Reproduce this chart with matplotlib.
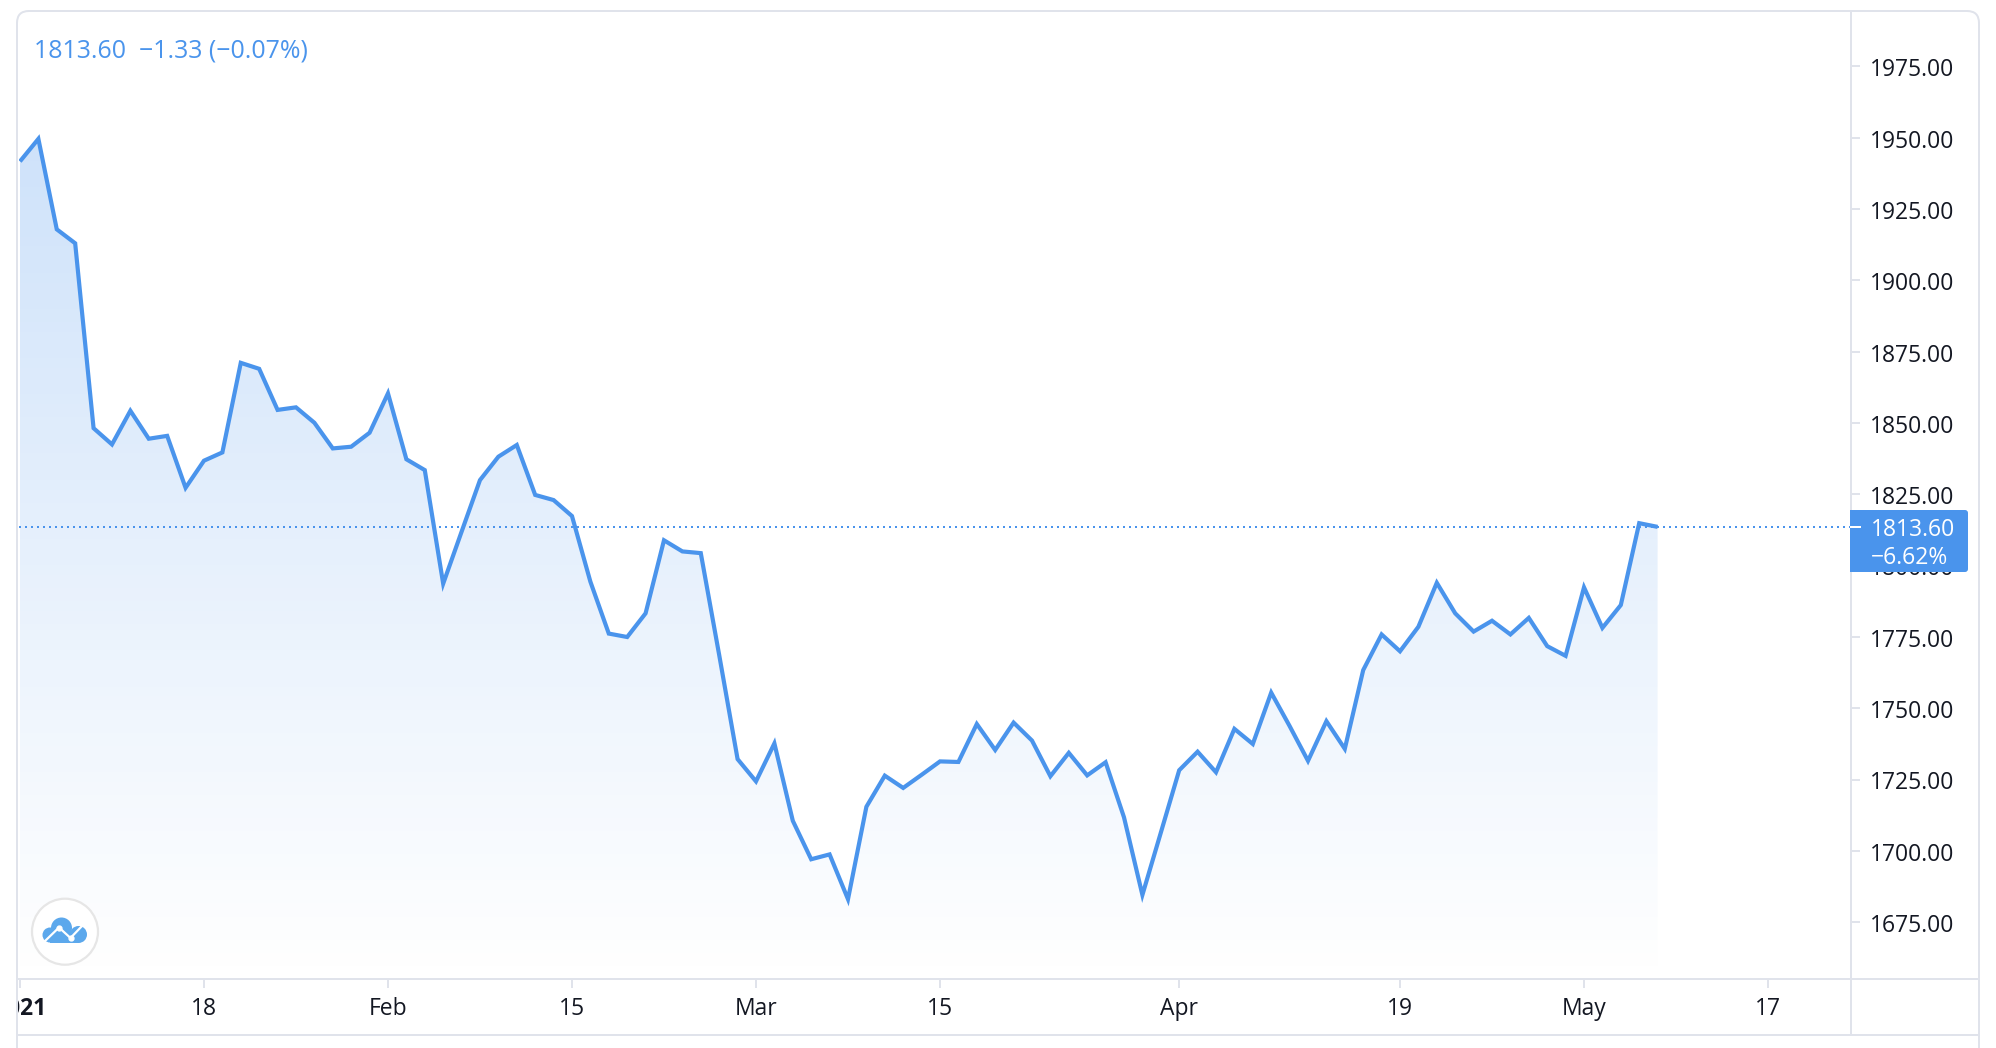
import numpy as np
import matplotlib
matplotlib.use("Agg")
import matplotlib.pyplot as plt
from matplotlib.patches import Circle, Rectangle, FancyBboxPatch, PathPatch
from matplotlib.path import Path
from matplotlib.lines import Line2D
from matplotlib.transforms import Affine2D, Bbox

# daily gold price
prices = [1941.7, 1949.6, 1917.9, 1913.0, 1848.2, 1842.5, 1854.3, 1844.5, 1845.5, 1827.3,
          1836.8, 1839.7, 1871.1, 1869.0, 1854.6, 1855.5, 1850.1, 1841.1, 1841.7, 1846.6,
          1860.4, 1837.3, 1833.5, 1793.7, 1811.9, 1830.0, 1838.2, 1842.3, 1824.8, 1823.0,
          1817.4, 1794.4, 1776.2, 1775.0, 1783.3, 1808.9, 1805.0, 1804.4, 1768.7, 1732.2,
          1724.4, 1737.7, 1710.6, 1697.1, 1698.8, 1683.1, 1715.5, 1726.4, 1722.1, 1726.7,
          1731.4, 1731.2, 1744.5, 1735.4, 1745.0, 1738.7, 1726.2, 1734.4, 1726.5, 1731.1,
          1711.8, 1684.6, 1706.4, 1728.3, 1734.8, 1727.6, 1742.8, 1737.5, 1755.5, 1743.8,
          1731.6, 1745.5, 1735.8, 1763.4, 1775.9, 1770.0, 1778.6, 1794.0, 1783.3, 1776.9,
          1780.7, 1775.9, 1781.7, 1771.8, 1768.4, 1792.4, 1778.2, 1786.2, 1814.9, 1813.6]
last_price = 1813.6
tick_idx = [0, 10, 20, 30, 40, 50, 63, 75, 85, 95]
tick_labels = ["2021", "18", "Feb", "15", "Mar", "15", "Apr", "19", "May", "17"]
y_ticks = [1675, 1700, 1725, 1750, 1775, 1800, 1825, 1850, 1875, 1900, 1925, 1950, 1975]
legend_text = "1813.60  \u22121.33 (\u22120.07%)"
badge_price = "1813.60"
badge_pct = "\u22126.62%"

W, H = 1996, 1048
BLUE = "#4a94ec"
GRID = "#e0e3eb"
DARK = "#131722"
plt.rcParams["font.family"] = ["Open Sans", "DejaVu Sans"]

fig = plt.figure(figsize=(W / 100, H / 100), dpi=100)
L, R, T, B = 18.5, 1851, 12, 979
ax = fig.add_axes([L / W, 1 - B / H, (R - L) / W, (B - T) / H])
x = np.arange(len(prices))
xlim = (-0.08, 99.51)
ylim = (1655.13, 1994.07)

# gradient under the line
fill = ax.fill_between(x, prices, ylim[0], color="none")
grad = np.zeros((256, 1, 4))
grad[:, 0, :3] = matplotlib.colors.to_rgb(BLUE)
grad[:, 0, 3] = np.linspace(0.27, 0, 256)
im = ax.imshow(grad, extent=[x[0], x[-1], ylim[0], max(prices)], aspect="auto", zorder=1)
im.set_clip_path(fill.get_paths()[0], ax.transData)

ax.axhline(last_price, color=BLUE, lw=1.44, dashes=(1, 2), zorder=2)
ax.plot(x, prices, color=BLUE, lw=3.0, zorder=3, solid_joinstyle="miter", solid_capstyle="butt")
ax.set_xlim(*xlim)
ax.set_ylim(*ylim)

for s in ["top", "left"]:
    ax.spines[s].set_visible(False)
for s in ["right", "bottom"]:
    ax.spines[s].set_color(GRID)
    ax.spines[s].set_linewidth(1.44)

ax.yaxis.tick_right()
ax.set_yticks(y_ticks)
ax.set_yticklabels(["%.2f" % v for v in y_ticks])
ax.set_xticks(tick_idx)
ax.set_xticklabels(tick_labels)
ax.tick_params(axis="x", length=6.5, width=1.44, color=GRID, labelcolor=DARK, labelsize=16.5, pad=6.3)
ax.tick_params(axis="y", length=6.5, width=1.44, color=GRID, labelcolor=DARK, labelsize=16.5, pad=7)
for lab in ax.get_yticklabels():
    lab.set_transform(lab.get_transform() + Affine2D().translate(0, -0.8))
first = ax.get_xticklabels()[0]
first.set_fontweight("bold")
first.set_clip_on(True)
first.set_clip_box(Bbox([[17, 0], [W, H]]))

ax.text(34.5 / W, 1 - 51.5 / H, legend_text, transform=fig.transFigure, color=BLUE, fontsize=17.9,
        va="center", ha="left")

# everything below is placed in picture pixels, y going down
px = Affine2D().scale(1, -1).translate(0, H)

# outer frame
frame = Path([(17, H), (17, 23), (17, 11), (29, 11), (1967, 11), (1979, 11), (1979, 23), (1979, H)],
             [Path.MOVETO, Path.LINETO, Path.CURVE3, Path.CURVE3, Path.LINETO, Path.CURVE3, Path.CURVE3, Path.LINETO])
fig.add_artist(PathPatch(frame, fc="none", ec=GRID, lw=1.44, transform=px))
fig.add_artist(Line2D([17, 1979], [1035, 1035], color=GRID, lw=1.44, transform=px))
fig.add_artist(Line2D([1851, 1851], [979, 1035], color=GRID, lw=1.44, transform=px))
fig.add_artist(Line2D([1851, 1979], [979, 979], color=GRID, lw=1.44, transform=px))

# price badge on the axis
fig.add_artist(Rectangle((1850, 510), 10, 62, fc=BLUE, ec="none", transform=px, zorder=5))
fig.add_artist(FancyBboxPatch((1853, 513), 112, 56, boxstyle="round,pad=3,rounding_size=3",
                              fc=BLUE, ec="none", transform=px, zorder=5))
fig.add_artist(Line2D([1851, 1860], [527, 527], color="white", lw=1.44, transform=px, zorder=6))
for txt, yp in [(badge_price, 529.5), (badge_pct, 557.5)]:
    fig.text(1870.5 / W, 1 - yp / H, txt, color="white", fontsize=16.5, va="center", ha="left", zorder=6)

# logo button
fig.add_artist(Circle((65, 931.7), 33, fc="white", ec="#e6e6e6", lw=1.6, transform=px, zorder=5))
CLOUD = "#5ca8ec"
for cx, cy, r in [(61.5, 928, 10.5), (50, 935, 7.5), (78.5, 934.5, 8.5)]:
    fig.add_artist(Circle((cx, cy), r, fc=CLOUD, ec="none", transform=px, zorder=6))
fig.add_artist(Rectangle((50, 932), 29, 11, fc=CLOUD, ec="none", transform=px, zorder=6))
fig.add_artist(Line2D([44, 59, 70.5, 82], [942, 927.5, 938, 926], color="white", lw=1.6, marker="o",
                      markersize=3.5, markevery=[1, 2], transform=px, zorder=7))

fig.savefig("out.png", dpi=100)
